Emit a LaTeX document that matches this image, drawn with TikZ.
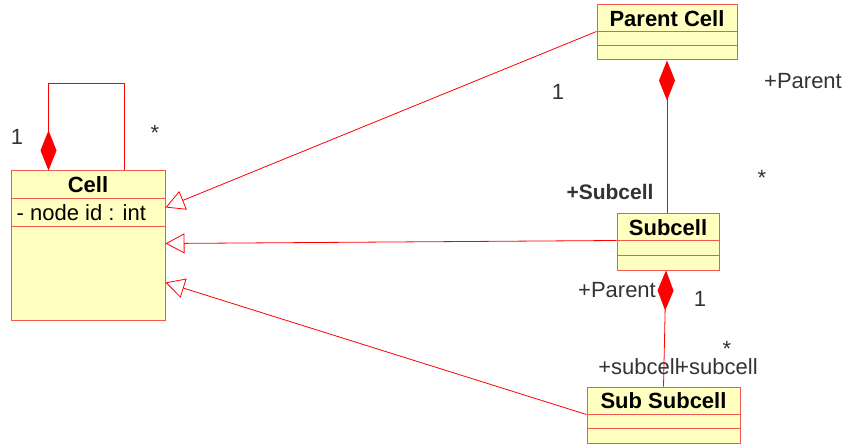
\documentclass[tikz,border=0pt]{standalone}
\usepackage{fontspec}
\setmainfont{Liberation Sans}
\usetikzlibrary{arrows.meta,positioning}
\definecolor{boxfill}{RGB}{255,255,192}
\definecolor{boxline}{RGB}{240,90,80}
\definecolor{labelgray}{RGB}{51,51,51}
\begin{document}
\begin{tikzpicture}[x=1pt,y=-1pt,
    every node/.style={font=\fontsize{22}{25}\selectfont},
    classbox/.style={draw=boxline,fill=boxfill,line width=1pt,inner sep=0pt},
    classname/.style={font=\fontsize{22}{25}\selectfont\bfseries,inner sep=0pt},
    rolelabel/.style={text=labelgray,inner sep=0pt},
    inherit/.style={red,line width=0.8pt,-{Triangle[open,length=19pt,width=20pt]}},
    compose/.style={red,line width=0.8pt,{Diamond[length=40pt,width=16pt]}-}]
    \useasboundingbox (0,0) rectangle (848,446);
    % class boxes
    \node[classbox,minimum width=154pt,minimum height=149pt] (cell) at (88,245.5) {};
    \node[classbox,minimum width=140pt,minimum height=55pt] (parent) at (667,32.5) {};
    \node[classbox,minimum width=102pt,minimum height=56pt] (subcell) at (668,242) {};
    \node[classbox,minimum width=153pt,minimum height=56pt] (subsub) at (663.5,415) {};
    % compartments
    \draw[boxline] ([yshift=-28pt]cell.north west) -- ([yshift=-28pt]cell.north east);
    \draw[boxline] ([yshift=-56pt]cell.north west) -- ([yshift=-56pt]cell.north east);
    \draw[boxline] ([yshift=-27pt]parent.north west) -- ([yshift=-27pt]parent.north east);
    \draw[boxline] ([yshift=-41pt]parent.north west) -- ([yshift=-41pt]parent.north east);
    \draw[boxline] ([yshift=-27pt]subcell.north west) -- ([yshift=-27pt]subcell.north east);
    \draw[boxline] ([yshift=-42pt]subcell.north west) -- ([yshift=-42pt]subcell.north east);
    \draw[boxline] ([yshift=-28pt]subsub.north west) -- ([yshift=-28pt]subsub.north east);
    \draw[boxline] ([yshift=-42pt]subsub.north west) -- ([yshift=-42pt]subsub.north east);
    % names and attributes
    \node[classname] (celltitle) at (88,185) {Cell};
    \node[inner sep=0pt,right=6pt of cell.north west,yshift=-42pt,anchor=west] (cellattr) {- node id : int};
    \node[classname] (parenttitle) at (667,19) {Parent Cell};
    \node[classname] (subcelltitle) at (668,228) {Subcell};
    \node[classname] (subsubtitle) at (663.5,401) {Sub Subcell};
    % generalisations
    \draw[inherit] ([yshift=-27pt]parent.north west) -- ([yshift=-37pt]cell.north east);
    \draw[inherit] ([yshift=-27pt]subcell.north west) -- ([yshift=-73pt]cell.north east);
    \draw[inherit] ([yshift=-28pt]subsub.north west) -- ([yshift=-112pt]cell.north east);
    % compositions
    \draw[compose] ([xshift=38pt]cell.north west) -- ++(0,-87) -| ([xshift=114pt]cell.north west);
    \draw[compose] (parent.south) -- (parent.south |- subcell.north);
    \draw[compose] ([xshift=-2pt]subcell.south) -- (subsub.north);
    % role names and multiplicities
    \node[rolelabel] (selfone) at (17,137) {1};
    \node[rolelabel] (selfmany) at (155,133) {*};
    \node[rolelabel] (parentone) at (558,92) {1};
    \node[rolelabel] (parentrole) at (803,81) {+Parent};
    \node[rolelabel,font=\fontsize{21}{24}\selectfont\bfseries] (subcellrole) at (610,192) {+Subcell};
    \node[rolelabel] (subcellmany) at (762,178) {*};
    \node[rolelabel] (lowerparent) at (617,290) {+Parent};
    \node[rolelabel] (lowerone) at (700,299) {1};
    \node[rolelabel] (subrolea) at (639,367) {+subcell};
    \node[rolelabel] (subroleb) at (717,367) {+subcell};
    \node[rolelabel] (submany) at (727,349) {*};
\end{tikzpicture}
\end{document}
